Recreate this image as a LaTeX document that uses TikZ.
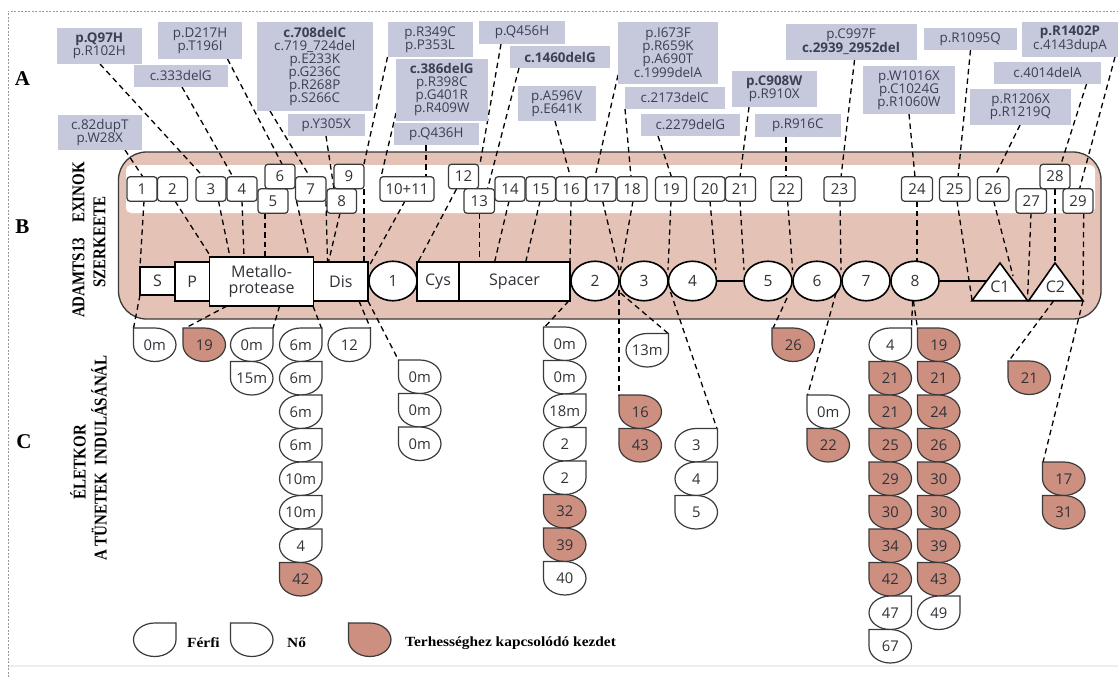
\documentclass[tikz,border=0pt]{standalone}
\usepackage{graphicx}
\usepackage{fontspec}
\setmainfont{Liberation Serif}
\newfontfamily\osans{Open Sans}
\usetikzlibrary{shapes.geometric}
\definecolor{panelc}{HTML}{E4C2B6}
\definecolor{tearc}{HTML}{CC8F80}
\definecolor{mutc}{HTML}{C6C8DB}
\definecolor{txtc}{HTML}{3C3F55}
\definecolor{numc}{HTML}{303238}
\definecolor{edgec}{HTML}{3A3A3A}
\pgfdeclarelayer{panellayer}
\pgfdeclarelayer{linklayer}
\pgfsetlayers{panellayer,linklayer,main}
\tikzset{
 exonbox/.style={draw=edgec,fill=white,line width=1.2pt,rounded corners=3pt,inner sep=0pt,minimum height=24.5pt,font=\osans\fontsize{15}{15}\selectfont,text=numc},
 dombox/.style={draw=black,fill=white,line width=1.6pt,inner sep=0pt,align=center,font=\osans\fontsize{16}{16.5}\selectfont,text=numc},
 domcirc/.style={ellipse,draw=black,fill=white,line width=1.6pt,inner sep=0pt,minimum width=48pt,minimum height=39.5pt,font=\osans\fontsize{15.5}{16.5}\selectfont,text=numc},
 domtri/.style={draw=black,fill=white,line width=1.6pt,line join=miter},
 domlabel/.style={inner sep=0pt,font=\osans\fontsize{16}{16.5}\selectfont,text=numc},
 mutbox/.style={fill=mutc,inner sep=0pt,align=center,font=\osans\fontsize{13.4}{13}\selectfont,text=txtc},
 lnk/.style={draw=black,line width=1.3pt,dash pattern=on 5.5pt off 4pt},
 solidlink/.style={draw=black,line width=1.6pt},
 twh/.style={draw=edgec,fill=white,line width=1.2pt},
 tpk/.style={draw=edgec,fill=tearc,line width=1.2pt},
 teartext/.style={inner sep=0pt,font=\osans\fontsize{14.8}{15}\selectfont,text=numc},
 sidelabel/.style={inner sep=0pt,font=\bfseries\fontsize{21}{22}\selectfont},
 vertlabel/.style={inner sep=0pt,rotate=90,font=\bfseries\fontsize{15}{15}\selectfont},
 legendtext/.style={inner sep=0pt,anchor=west,font=\bfseries\fontsize{14}{15}\selectfont},
}
% record a node's centre under its name
\newcommand\rec[3]{\pgfmathsetmacro\tmpa{#2}\pgfmathsetmacro\tmpb{#3}%
 \expandafter\xdef\csname cx#1\endcsname{\tmpa}\expandafter\xdef\csname cy#1\endcsname{\tmpb}}
\newcommand\nn[5]{\rec{#2}{#3}{#4}\node[#1] (#2) at (#3,#4) {#5};}
% mutation box: name x1 y1 x2 y2 text
\newcommand\mb[6]{\rec{#1}{(#2+#4)/2}{(#3+#5)/2}\pgfmathsetmacro\tmpw{#4-#2}\pgfmathsetmacro\tmph{#5-#3}%
 \node[mutbox,minimum width=\tmpw pt,minimum height=\tmph pt] (#1) at (\csname cx#1\endcsname,\csname cy#1\endcsname) {#6};}
% exon box: name x1 x2 ycentre text
\newcommand\ex[5]{\rec{#1}{(#2+#3)/2}{#4}\pgfmathsetmacro\tmpw{#3-#2}%
 \node[exonbox,minimum width=\tmpw pt] (#1) at (\csname cx#1\endcsname,#4) {#5};}
% rectangular domain: name x1 x2 y1 y2 text
\newcommand\dm[6]{\rec{#1}{(#2+#3)/2}{(#4+#5)/2}\pgfmathsetmacro\tmpw{#3-#2}\pgfmathsetmacro\tmph{#5-#4}%
 \node[dombox,minimum width=\tmpw pt,minimum height=\tmph pt] (#1) at (\csname cx#1\endcsname,\csname cy#1\endcsname) {#6};}
% tear shapes: name x y style text (L: square top-left, R: square top-right)
\newcommand\tL[5]{\rec{#1}{#2+21.25}{#3+16.75}%
 \draw[#4,shift={(#2,#3)}] (0,0) -- (21.25,0) .. controls (33,0) and (42.5,7.5) .. (42.5,16.75) .. controls (42.5,26) and (33,33.5) .. (21.25,33.5) .. controls (9.5,33.5) and (0,26) .. (0,16.75) -- cycle;
 \node[teartext] (#1) at (#2+21.25,#3+17) {#5};}
\newcommand\tR[5]{\rec{#1}{#2+21.25}{#3+16.75}%
 \draw[#4,shift={(#2,#3)}] (42.5,0) -- (21.25,0) .. controls (9.5,0) and (0,7.5) .. (0,16.75) .. controls (0,26) and (9.5,33.5) .. (21.25,33.5) .. controls (33,33.5) and (42.5,26) .. (42.5,16.75) -- cycle;
 \node[teartext] (#1) at (#2+21.25,#3+17) {#5};}
% dashed connector between named nodes, ends given in picture pixels
\newcommand\lk[6]{\begin{pgfonlayer}{linklayer}{%
 \pgfmathsetmacro\aX{#2-\csname cx#1\endcsname}\pgfmathsetmacro\aY{#3-\csname cy#1\endcsname}%
 \pgfmathsetmacro\bX{#5-\csname cx#4\endcsname}\pgfmathsetmacro\bY{#6-\csname cy#4\endcsname}%
 \draw[lnk] ([shift={(\aX,\aY)}]#1.center) -- ([shift={(\bX,\bY)}]#4.center);}\end{pgfonlayer}}
\begin{document}
\begin{tikzpicture}[x=1pt,y=-1pt]
\useasboundingbox (0,0) rectangle (1118,677);
\begin{pgfonlayer}{panellayer}
 \fill[white] (0,0) rectangle (1118,677);
 \draw[gray!80,line width=0.6pt,dash pattern=on 2pt off 1.5pt] (8,677) -- (8,11) -- (1118,11);
 \fill[black!7] (9,665) rectangle (1118,667);
 \node[draw=edgec,fill=panelc,line width=1.3pt,rounded corners=28pt,inner sep=0pt,minimum width=982.5pt,minimum height=167pt] (panel) at (609.75,235.5) {};
 \node[fill=white,rounded corners=5pt,inner sep=0pt,minimum width=969pt,minimum height=48pt] (band) at (610.5,189) {};
\end{pgfonlayer}
% letters
\node[sidelabel] (la) at (22.5,79) {A};
\node[sidelabel] (lb) at (22.5,227) {B};
\node[sidelabel] (lc) at (24,442) {C};
\node[vertlabel] (v1) at (78.5,240) {\scalebox{1}[1.2]{ADAMTS13\hspace{1em}EXINOK}};
\node[vertlabel] (v2) at (99.5,242) {\scalebox{1}[1.2]{SZERKEETE}};
\node[vertlabel] (v3) at (78,462) {\scalebox{1}[1.2]{ÉLETKOR}};
\node[vertlabel] (v4) at (99,458) {\scalebox{1}[1.2]{A TÜNETEK\hspace{0.5em}INDULÁSÁNÁL}};
% mutation boxes
\mb{m1}{57.5}{115}{142}{150}{c.82dupT\\p.W28X}
\mb{m2}{56.5}{28}{142}{64}{\textbf{p.Q97H}\\p.R102H}
\mb{m3}{134}{65}{227.5}{87}{c.333delG}
\mb{m4}{158}{22}{242}{59}{p.D217H\\p.T196I}
\mb{m5}{257}{22}{372.5}{111}{\textbf{c.708delC}\\c.719\_724del\\p.E233K\\p.G236C\\p.R268P\\p.S266C}
\mb{m6}{288}{114}{364.5}{136}{p.Y305X}
\mb{m7}{387.5}{22}{472.5}{57}{p.R349C\\p.P353L}
\mb{m8}{396}{59}{487.5}{121}{\textbf{c.386delG}\\p.R398C\\p.G401R\\p.R409W}
\mb{m9}{393.5}{123}{479}{145}{p.Q436H}
\mb{m10}{479}{21}{565}{44}{p.Q456H}
\mb{m11}{510}{46}{610}{68}{\textbf{c.1460delG}}
\mb{m12}{518}{86}{595.5}{121}{p.A596V\\p.E641K}
\mb{m13}{618}{22}{718}{84}{p.I673F\\p.R659K\\p.A690T\\c.1999delA}
\mb{m14}{625}{87}{724.5}{109}{c.2173delC}
\mb{m15}{640.5}{114}{740}{136}{c.2279delG}
\mb{m16}{732}{71}{816.5}{107}{\textbf{p.C908W}\\p.R910X}
\mb{m17}{755}{114}{840.5}{137}{p.R916C}
\mb{m18}{785.5}{24}{916.5}{60}{p.C997F\\\textbf{c.2939\_2952del}}
\mb{m19}{863}{66}{955}{114}{p.W1016X\\p.C1024G\\p.R1060W}
\mb{m20}{924}{28}{1016.5}{50}{p.R1095Q}
\mb{m21}{970}{89}{1071}{125}{p.R1206X\\p.R1219Q}
\mb{m22}{994}{62}{1101}{84}{c.4014delA}
\mb{m23}{1022}{22}{1118}{57}{\textbf{p.R1402P}\\c.4143dupA}
% exons
\ex{e1}{127}{157}{189}{1}
\ex{e2}{157.5}{187.5}{189}{2}
\ex{e3}{196}{226}{189}{3}
\ex{e4}{227}{257}{189}{4}
\ex{e5}{258}{288}{201}{5}
\ex{e6}{265}{295}{176.5}{6}
\ex{e7}{295.5}{326}{189}{7}
\ex{e8}{327}{356.5}{201}{8}
\ex{e9}{334}{364}{176.5}{9}
\ex{e10}{380}{434}{189}{10+11}
\ex{e12}{448.5}{478.5}{176.5}{12}
\ex{e13}{464}{494.5}{201}{13}
\ex{e14}{495}{525}{189}{14}
\ex{e15}{526}{555.5}{189}{15}
\ex{e16}{556}{586}{189}{16}
\ex{e17}{586.5}{616}{189}{17}
\ex{e18}{617}{647}{189}{18}
\ex{e19}{655.5}{686.5}{189}{19}
\ex{e20}{694.5}{725}{189}{20}
\ex{e21}{725.5}{755.5}{189}{21}
\ex{e22}{771}{801.5}{189}{22}
\ex{e23}{824}{855}{189}{23}
\ex{e24}{901.5}{932.5}{189}{24}
\ex{e25}{939.5}{970}{189}{25}
\ex{e26}{977.5}{1009}{189}{26}
\ex{e27}{1016}{1046.5}{201}{27}
\ex{e28}{1040}{1070}{176.5}{28}
\ex{e29}{1063}{1093}{201}{29}
% domains
\dm{ds}{140}{175}{267}{295}{S}
\dm{dp}{175}{209.6}{262}{301}{P}
\dm{dm}{209.6}{313.6}{257}{306}{Metallo-\\protease}
\dm{dd}{313.6}{368}{262}{301}{Dis}
\nn{domcirc}{c1}{393}{281}{1}
\dm{dc}{417}{459}{262}{301}{Cys}
\dm{dsp}{459}{570}{262}{301}{Spacer}
\nn{domcirc}{c2}{595}{281}{2}
\nn{domcirc}{c3}{644}{281}{3}
\nn{domcirc}{c4}{692.5}{281}{4}
\nn{domcirc}{c5}{768}{281}{5}
\nn{domcirc}{c6}{817}{281}{6}
\nn{domcirc}{c7}{866}{281}{7}
\nn{domcirc}{c8}{915}{281}{8}
\draw[domtri] (1000,263) -- (1027.6,300.7) -- (972,300.7) -- cycle;
\draw[domtri] (1055,263) -- (1083,300.7) -- (1028.6,300.7) -- cycle;
\nn{domlabel}{t1}{1000}{286.5}{C1}
\nn{domlabel}{t2}{1055.5}{286.5}{C2}
\begin{pgfonlayer}{linklayer}
 \draw[solidlink] (c4.east) -- (c5.west);
 \draw[solidlink] (c8.east) -- ([yshift=5.5pt]t1.center);
\end{pgfonlayer}
% tears
\tL{a1}{133.5}{328}{twh}{0m}
\tL{a2}{183}{328}{tpk}{19}
\tR{a3}{230.5}{328}{twh}{0m}
\tL{a4}{230.5}{361.5}{twh}{15m}
\tR{b1}{279.5}{328}{twh}{6m}
\tR{b2}{279.5}{361.5}{twh}{6m}
\tR{b3}{279.5}{395}{twh}{6m}
\tR{b4}{279.5}{428.5}{twh}{6m}
\tR{b5}{279.5}{462}{twh}{10m}
\tR{b6}{279.5}{495.5}{twh}{10m}
\tR{b7}{279.5}{529}{twh}{4}
\tL{b8}{279.5}{562.5}{tpk}{42}
\tR{a5}{328}{328}{twh}{12}
\tL{g1}{398.5}{360}{twh}{0m}
\tL{g2}{398.5}{393.5}{twh}{0m}
\tL{g3}{398.5}{427}{twh}{0m}
\tL{h1}{543.5}{327}{twh}{0m}
\tL{h2}{543.5}{360.5}{twh}{0m}
\tR{h3}{543.5}{394}{twh}{18m}
\tR{h4}{543.5}{427.5}{twh}{2}
\tR{h5}{543.5}{461}{twh}{2}
\tL{h6}{543.5}{494.5}{tpk}{32}
\tL{h7}{543.5}{528}{tpk}{39}
\tL{h8}{543.5}{561.5}{twh}{40}
\tR{i1}{626}{333.5}{twh}{13m}
\tL{i2}{619}{395}{tpk}{16}
\tL{i3}{619}{428.5}{tpk}{43}
\tR{j1}{675}{428.5}{twh}{3}
\tR{j2}{675}{462}{twh}{4}
\tL{j3}{675}{495.5}{twh}{5}
\tL{k1}{772}{328}{tpk}{26}
\tL{k2}{807}{395}{twh}{0m}
\tL{k3}{807}{428.5}{tpk}{22}
\tR{p1}{869}{328}{twh}{4}
\tL{p2}{869}{361.5}{tpk}{21}
\tL{p3}{869}{395}{tpk}{21}
\tL{p4}{869}{428.5}{tpk}{25}
\tL{p5}{869}{462}{tpk}{29}
\tL{p6}{869}{495.5}{tpk}{30}
\tL{p7}{869}{529}{tpk}{34}
\tL{p8}{869}{562.5}{tpk}{42}
\tR{p9}{869}{596}{twh}{47}
\tL{p10}{869}{629.5}{twh}{67}
\tL{q1}{917.5}{328}{tpk}{19}
\tL{q2}{917.5}{361.5}{tpk}{21}
\tL{q3}{917.5}{395}{tpk}{24}
\tL{q4}{917.5}{428.5}{tpk}{26}
\tL{q5}{917.5}{462}{tpk}{30}
\tL{q6}{917.5}{495.5}{tpk}{30}
\tL{q7}{917.5}{529}{tpk}{39}
\tL{q8}{917.5}{562.5}{tpk}{43}
\tR{q9}{917.5}{596}{twh}{49}
\tL{r1}{1008}{361}{tpk}{21}
\tL{s1}{1042.5}{462}{tpk}{17}
\tL{s2}{1042.5}{495.5}{tpk}{31}
% legend
\tR{l1}{133.5}{623}{twh}{}
\tL{l2}{230.5}{623}{twh}{}
\tL{l3}{348.5}{623}{tpk}{}
\node[legendtext] (lt1) at (187,643) {\scalebox{1.1}[1]{Férfi}};
\node[legendtext] (lt2) at (287,643) {\scalebox{1.1}[1]{Nő}};
\node[legendtext] (lt3) at (405,643) {\scalebox{1.1}[1]{Terhességhez kapcsolódó kezdet}};
% connectors: mutation to exon
\lk{m1}{125}{150}{e1}{143}{177}
\lk{m2}{100}{64}{e3}{203.6}{177}
\lk{m3}{182}{87}{e4}{233}{177}
\lk{m4}{227.5}{59}{e6}{282}{164}
\lk{m5}{270}{111}{e7}{310}{177}
\lk{m6}{326}{136}{e8}{334}{189}
\lk{m7}{387.5}{57}{e9}{364}{164}
\lk{m8}{396}{113}{e10}{381}{177}
\lk{m9}{426}{145}{e10}{426}{177}
\lk{m10}{501}{44}{e12}{480}{164}
\lk{m11}{519}{68}{e13}{487.5}{189}
\lk{m12}{555}{121}{e16}{570.5}{177}
\lk{m13}{618}{75}{e17}{595}{177}
\lk{m14}{625}{109}{e18}{631}{177}
\lk{m15}{658}{136}{e19}{671.5}{177}
\lk{m16}{749}{107}{e21}{740}{177}
\lk{m17}{786}{137}{e22}{786}{177}
\lk{m18}{854.5}{60}{e23}{841}{177}
\lk{m19}{909}{114}{e24}{915}{177}
\lk{m20}{970.5}{50}{e25}{958}{177}
\lk{m21}{1020}{125}{e26}{994.5}{177}
\lk{m22}{1086.5}{84}{e28}{1061}{164}
\lk{m23}{1115}{57}{e29}{1079.5}{189}
% connectors: exon to domain
\lk{e1}{144}{201}{ds}{140}{267}
\lk{e2}{175}{201}{dm}{211}{257}
\lk{e3}{218.5}{201}{dm}{230}{257}
\lk{e4}{242}{201}{dm}{244}{257}
\lk{e5}{265}{213}{dm}{265}{257}
\lk{e7}{296.5}{201}{dm}{309}{257}
\lk{e7}{326}{201}{dd}{327.5}{262}
\lk{e8}{340}{213}{dd}{328.5}{262}
\lk{e9}{364}{189}{dd}{364}{262}
\lk{e10}{405}{201}{dd}{368}{268}
\lk{e12}{456.5}{189}{dc}{418}{262}
\lk{e13}{479.6}{213}{dsp}{479.6}{262}
\lk{e14}{509}{201}{dsp}{494.6}{262}
\lk{e15}{540}{201}{dsp}{525.7}{262}
\lk{e16}{571}{201}{dsp}{570}{262}
\lk{e17}{602.6}{201}{c3}{619}{270}
\lk{e18}{633}{201}{c3}{620.5}{270}
\lk{e19}{671}{201}{c4}{668}{270}
\lk{e20}{710}{201}{c4}{716}{270}
\lk{e21}{740}{201}{c5}{744}{270}
\lk{e22}{787.6}{201}{c6}{792.6}{270}
\lk{e23}{840}{201}{c6}{841}{270}
\lk{e24}{917}{201}{c8}{917}{262}
\lk{e25}{957}{201}{t1}{972}{300}
\lk{e26}{993.7}{201}{t1}{1013}{276}
\lk{e27}{1031}{213}{t1}{1027.6}{297}
\lk{e28}{1055}{189}{t2}{1055}{263}
\lk{e29}{1083.7}{213}{t2}{1083}{298}
% connectors: domain to age marks
\lk{ds}{140}{295}{a1}{133.5}{328}
\lk{dm}{227}{306}{a2}{185}{328}
\lk{dm}{279.6}{306}{a3}{273}{328}
\lk{dm}{313}{306}{b1}{321.5}{328}
\lk{dd}{359}{301}{a5}{370.5}{328}
\lk{dd}{368}{301}{g1}{398.5}{360}
\lk{dsp}{568.7}{301}{h1}{544.5}{327}
\lk{c3}{619}{290}{i2}{619}{395}
\lk{c3}{620.5}{293}{i1}{668.5}{333.5}
\lk{c4}{670.5}{292}{j1}{717}{428.5}
\lk{c6}{787}{298}{k1}{773}{328}
\lk{c7}{836}{293}{k2}{807.5}{395}
\lk{c8}{912.6}{301}{p1}{911.5}{328}
\lk{c8}{913.4}{301}{q1}{917.5}{328}
\lk{t2}{1053.7}{300.7}{r1}{1008.5}{361}
\lk{t2}{1083}{300.7}{s1}{1043}{462}
\end{tikzpicture}
\end{document}
